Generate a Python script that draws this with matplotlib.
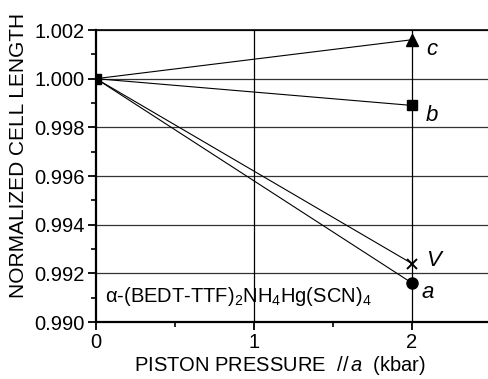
import matplotlib
matplotlib.use("Agg")
import matplotlib.pyplot as plt
from matplotlib.ticker import MultipleLocator

plt.rcParams['font.family'] = ['Liberation Sans', 'DejaVu Sans']
plt.rcParams['mathtext.fontset'] = 'custom'
plt.rcParams['mathtext.rm'] = 'Liberation Sans'
plt.rcParams['mathtext.it'] = 'Liberation Sans:italic'

# data
pressure = [0, 2]
len_a = [1.000, 0.9916]
len_V = [1.000, 0.9924]
len_b = [1.000, 0.9989]
len_c = [1.000, 1.0016]
series_labels = ['a', 'V', 'b', 'c']

W, H = 489, 379
fig = plt.figure(figsize=(W / 100, H / 100), dpi=100)
ax = fig.add_axes([96 / W, 57 / H, 395 / W, 292 / H])

ax.set_xlim(0, 2.5)
ax.set_ylim(0.990, 1.002)

# grid
for y in [0.992, 0.994, 0.996, 0.998, 1.000, 1.002]:
    ax.axhline(y, color='#333333', lw=0.9, zorder=1)
for x in [1, 2]:
    ax.axvline(x, color='black', lw=0.9, zorder=1)

lk = dict(color='black', lw=0.8, zorder=3)
ax.plot(pressure, len_a, **lk)
ax.plot(pressure, len_V, **lk)
ax.plot(pressure, len_b, **lk)
ax.plot(pressure, len_c, **lk)

ax.plot(pressure[1], len_a[1], 'o', color='black', ms=8, zorder=4)
ax.plot(pressure[1], len_V[1], 'x', color='black', ms=7.5, mew=1.4, zorder=4)
ax.plot(pressure[1], len_b[1], 's', color='black', ms=7, zorder=4)
ax.plot(pressure[1], len_c[1], '^', color='black', ms=9, zorder=4)
ax.plot(pressure[0], len_a[0], 's', color='black', ms=7.5, zorder=4)

# series labels
lab_x = [2.101, 2.139, 2.127, 2.127]
lab_y = [0.99099, 0.99231, 0.99825, 1.00097]
for t, x, y in zip(series_labels, lab_x, lab_y):
    ax.text(x, y, t, fontsize=16, style='italic', ha='center', va='baseline')

ax.text(0.057, 0.99083, 'α-(BEDT-TTF)$_2$NH$_4$Hg(SCN)$_4$',
        fontsize=14.5, ha='left', va='baseline')

ax.set_xticks([0, 1, 2])
ax.set_xticklabels(['0', '1', '2'])
ax.xaxis.set_minor_locator(MultipleLocator(0.5))
ax.set_yticks([0.990, 0.992, 0.994, 0.996, 0.998, 1.000, 1.002])
ax.set_yticklabels(['0.990', '0.992', '0.994', '0.996', '0.998', '1.000', '1.002'])
ax.yaxis.set_minor_locator(MultipleLocator(0.001))
ax.tick_params(which='major', direction='out', length=6, width=1.3, labelsize=14.5, pad=2)
ax.tick_params(which='minor', direction='out', length=3.5, width=1.2)

for s in ['left', 'bottom']:
    ax.spines[s].set_linewidth(1.6)
ax.spines['right'].set_visible(False)
ax.spines['top'].set_linewidth(1.2)

fig.text(19 / W, 1 - 155 / H, 'NORMALIZED CELL LENGTH', fontsize=15,
         rotation=90, ha='center', va='center')
fig.text(280 / W, 1 - 371 / H, r'PISTON PRESSURE  $\mathit{//\,a}$  (kbar)',
         fontsize=14.5, ha='center', va='baseline')

fig.savefig('out.png', dpi=100)
